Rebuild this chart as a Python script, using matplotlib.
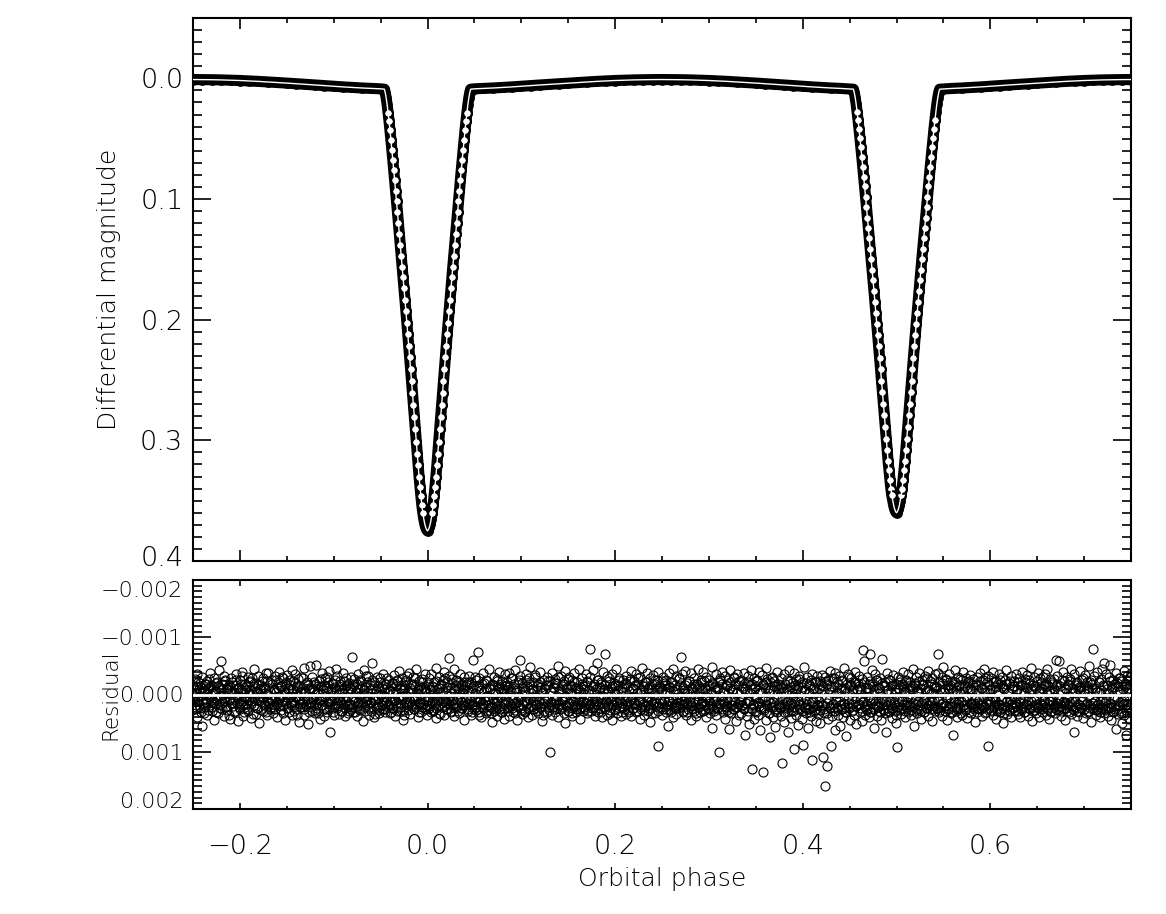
import numpy as np
import matplotlib
matplotlib.use("Agg")
import matplotlib.pyplot as plt
import matplotlib.transforms as mtransforms
from matplotlib.ticker import MultipleLocator, FuncFormatter

# ---------------- data ----------------
# eclipse half-profile: phase offset from minimum
ecl_offset = [0.000, 0.001, 0.002, 0.003, 0.004, 0.005, 0.006, 0.007, 0.008, 0.009,
              0.010, 0.011, 0.012, 0.013, 0.014, 0.015, 0.016, 0.017, 0.018, 0.019,
              0.020, 0.021, 0.022, 0.023, 0.024, 0.025, 0.026, 0.027, 0.028, 0.029,
              0.030, 0.031, 0.032, 0.033, 0.034, 0.035, 0.036, 0.037, 0.038, 0.039,
              0.040, 0.041, 0.042, 0.043, 0.044, 0.045, 0.046]
primary_mag = [0.3750, 0.3740, 0.3720, 0.3690, 0.3650, 0.3600, 0.3540, 0.3465, 0.3385, 0.3300,
               0.3205, 0.3110, 0.3010, 0.2910, 0.2810, 0.2710, 0.2610, 0.2510, 0.2410, 0.2310,
               0.2215, 0.2120, 0.2025, 0.1930, 0.1835, 0.1740, 0.1650, 0.1560, 0.1470, 0.1380,
               0.1290, 0.1200, 0.1110, 0.1020, 0.0930, 0.0845, 0.0760, 0.0675, 0.0590, 0.0510,
               0.0430, 0.0355, 0.0285, 0.0220, 0.0165, 0.0120, 0.0090]
secondary_mag = [0.3600, 0.3590, 0.3570, 0.3540, 0.3500, 0.3456, 0.3400, 0.3326, 0.3249, 0.3168,
                 0.3077, 0.2986, 0.2890, 0.2794, 0.2698, 0.2602, 0.2506, 0.2410, 0.2314, 0.2219,
                 0.2127, 0.2036, 0.1945, 0.1854, 0.1763, 0.1672, 0.1586, 0.1499, 0.1413, 0.1327,
                 0.1240, 0.1154, 0.1068, 0.0981, 0.0895, 0.0814, 0.0732, 0.0651, 0.0569, 0.0492,
                 0.0416, 0.0344, 0.0277, 0.0214, 0.0162, 0.0118, 0.0090]

# out-of-eclipse sections
phase_a = [-0.25, -0.24, -0.23, -0.22, -0.21, -0.20, -0.19, -0.18, -0.17, -0.16, -0.15,
           -0.14, -0.13, -0.12, -0.11, -0.10, -0.09, -0.08, -0.07, -0.06, -0.05]
mag_a = [0.00100, 0.00105, 0.00115, 0.00130, 0.00155, 0.00180, 0.00215, 0.00255, 0.00300,
         0.00345, 0.00395, 0.00445, 0.00500, 0.00550, 0.00605, 0.00655, 0.00710, 0.00755,
         0.00800, 0.00835, 0.00870]
phase_b = [0.05, 0.06, 0.07, 0.08, 0.09, 0.10, 0.11, 0.12, 0.13, 0.14, 0.15, 0.16, 0.17,
           0.18, 0.19, 0.20, 0.21, 0.22, 0.23, 0.24, 0.25, 0.26, 0.27, 0.28, 0.29, 0.30,
           0.31, 0.32, 0.33, 0.34, 0.35, 0.36, 0.37, 0.38, 0.39, 0.40, 0.41, 0.42, 0.43,
           0.44, 0.45]
mag_b = [0.00870, 0.00835, 0.00800, 0.00755, 0.00710, 0.00655, 0.00605, 0.00550, 0.00500,
         0.00445, 0.00395, 0.00345, 0.00300, 0.00255, 0.00215, 0.00180, 0.00155, 0.00130,
         0.00115, 0.00105, 0.00100, 0.00105, 0.00115, 0.00130, 0.00155, 0.00180, 0.00215,
         0.00255, 0.00300, 0.00345, 0.00395, 0.00445, 0.00500, 0.00550, 0.00605, 0.00655,
         0.00710, 0.00755, 0.00800, 0.00835, 0.00880]
phase_c = [0.55, 0.56, 0.57, 0.58, 0.59, 0.60, 0.61, 0.62, 0.63, 0.64, 0.65, 0.66, 0.67,
           0.68, 0.69, 0.70, 0.71, 0.72, 0.73, 0.74, 0.75]
mag_c = [0.00880, 0.00835, 0.00800, 0.00755, 0.00710, 0.00655, 0.00605, 0.00550, 0.00500,
         0.00445, 0.00395, 0.00345, 0.00300, 0.00255, 0.00215, 0.00180, 0.00155, 0.00130,
         0.00115, 0.00105, 0.00100]

# residuals (units of 1e-5 mag), two interleaved sets, each ordered in phase -0.25 .. 0.75
residual_set1_1e5 = """
12 -8 25 3 -15 40 7 -22 18 -5 30 -12 55 9 -3 22 -18 14 35 -9 4 -27 19 0 28 -14 11 45 -6 16 -20 8 33 -11 24 2 -58 13 -17 38 6 -24 21 -2 27 -13 10 42 -7 15
-4 20 -16 31 8 -25 14 47 -10 3 26 -19 11 -33 37 5 -8 22 -14 16 29 -3 9 -21 41 12 -28 6 18 -11 34 -6 24 -17 2 50 -9 13 -23 28 7 -13 19 -38 10 36 -1 15 -20 25
9 -18 33 -7 21 4 -26 16 39 -12 8 -15 27 1 -30 18 -5 44 11 -22 23 -10 6 30 -16 14 -2 36 -24 19 10 -35 26 -8 3 48 -14 17 -4 22 -29 12 35 -6 20 -19 7 52 -11 15
-50 13 28 -9 5 -21 32 17 -3 24 -14 10 43 -27 8 19 -7 37 -16 2 26 -31 14 -11 21 65 -5 11 -20 30 6 -13 18 -45 23 9 -2 34 -18 15 28 -8 4 -24 38 12 -15 20 -6 29
16 -12 25 -65 7 31 -19 11 -4 38 20 -9 3 -25 27 14 -15 46 6 -8 22 -32 10 18 -2 35 -17 13 29 -10 5 -22 40 8 -6 24 -14 17 33 -28 1 19 -11 26 9 -18 30 12 -5 21
-7 18 32 -14 6 24 -20 11 37 -3 15 -26 21 4 -11 29 -16 9 44 -8 27 -22 13 2 -33 19 8 -12 34 -5 16 -18 25 10 -28 22 3 39 -9 14 -15 31 7 -21 17 -4 26 -10 12 36
5 -19 23 -9 30 12 -14 27 -3 16 41 -24 8 20 -11 33 1 -17 22 11 -6 36 -28 14 25 -13 7 -64 18 -2 29 -20 10 38 -7 15 -25 21 4 -12 32 9 -16 24 -5 19 45 -10 13 -22
17 -8 28 -21 10 35 -4 19 -15 26 6 -30 22 13 -75 31 -11 8 40 -18 15 24 -6 11 -26 33 2 18 -13 27 -9 21 48 -16 7 29 -3 14 -23 37 10 -12 25 4 -19 30 -7 16 42 -14
-2 24 -17 13 38 -9 20 -28 6 31 15 -12 27 -5 44 9 -21 18 -60 23 1 34 -14 11 -7 29 -25 16 40 8 -18 22 -3 35 12 -10 26 -30 19 5 -15 32 10 -22 21 -8 46 14 -4 28
11 -16 30 7 -24 22 100 -6 17 35 -13 9 26 -20 14 3 -30 39 18 -9 24 -3 12 -18 33 6 50 -11 21 -27 15 28 -5 10 -14 37 20 -22 8 -1 31 16 -12 25 -7 43 4 -19 29 13
-10 26 14 -21 33 5 -8 19 -80 28 10 -15 22 -4 37 16 -26 11 30 -12 24 7 -18 40 2 -9 21 -70 13 35 -6 17 -23 27 9 -14 45 19 -3 25 -16 12 32 -8 6 -25 20 38 -11 15
21 -13 8 34 -19 16 27 -6 12 -24 38 4 -10 23 15 -17 30 -2 19 -28 9 42 -8 26 13 -15 35 -4 20 -21 11 29 -12 6 48 -9 24 -18 17 1 33 -7 14 -26 22 90 -14 10 -5 36
-8 25 12 -20 31 -3 18 55 -13 9 27 -22 15 -6 40 21 -16 7 34 -10 23 -29 14 4 -65 19 30 -7 11 -17 36 16 -2 26 -24 8 44 -12 20 -5 29 -19 13 38 -9 22 3 -15 31 17
14 -11 28 -23 19 6 39 -7 23 -16 12 33 -4 58 -20 26 8 -13 35 17 -9 24 100 -26 15 3 -18 30 11 -6 42 20 -14 27 -2 60 -21 9 33 18 -10 25 -28 13 47 -5 21 -17 36 7
-6 32 19 -15 26 70 -9 14 38 -21 11 52 -3 24 130 -18 17 43 -12 29 6 -25 36 15 -8 62 21 -4 135 -16 27 10 -22 45 18 -11 33 75 -7 22 -28 40 13 -14 56 25 -1 31 -19 16
24 -12 37 120 -5 20 48 -18 13 30 -8 66 22 -24 15 41 -3 28 95 -16 11 35 -10 54 19 -27 26 7 -13 43 88 -6 21 32 -20 16 58 -2 25 -15 38 115 -9 12 29 -22 47 18 -4 34
-11 27 50 -17 19 110 -6 33 160 -23 14 125 42 -9 24 90 -14 38 16 -28 29 62 -3 21 -19 35 11 55 -8 26 -25 40 17 -12 31 72 -5 22 -30 15 45 -16 28 8 -10 36 -21 20 52 -7
18 -14 30 -9 23 46 -78 12 -21 35 16 -4 27 -12 40 -70 9 31 -18 22 58 -7 14 -25 37 20 -11 28 -3 44 15 -20 25 6 -15 33 65 -8 19 -27 30 11 -5 41 -17 24 13 -10 36 50
92 -11 27 16 -22 34 8 -15 24 -5 40 19 -26 13 31 -8 21 -17 36 4 -13 28 55 -20 17 -6 33 11 -24 25 -2 42 14 -16 30 9 -10 23 -29 18 38 -7 26 -18 12 47 -3 20 -12 29
-15 24 -70 31 10 -9 22 -20 37 15 -4 28 -25 18 45 -12 26 6 -17 33 20 -8 70 13 -22 29 -3 39 16 -14 23 -27 11 35 -6 19 -18 27 3 -11 41 21 -24 14 32 -9 17 -16 25 48
9 -18 30 14 -7 26 -23 19 38 -12 22 5 -28 33 15 -4 90 24 -16 11 29 -10 36 -21 18 7 -13 42 25 -6 17 -26 31 10 -15 23 50 -9 20 -19 34 12 -3 27 -24 16 39 -11 21 4
-14 28 17 -8 34 -22 13 40 -5 25 -17 20 8 -27 31 16 -11 37 -3 23 -20 12 46 -9 29 18 -15 33 6 -24 21 -6 39 14 -12 26 -30 19 10 -18 35 -2 24 -14 42 11 -8 30 -21 17
22 -10 32 -60 15 -19 27 8 -14 38 20 -6 25 -23 13 44 -9 29 -16 18 3 -27 34 12 -11 26 65 -4 21 -20 37 16 -13 30 -7 24 -25 11 41 -2 19 -17 33 14 -8 28 -22 23 48 -12
15 -80 26 -12 35 18 -5 29 -21 11 40 -8 23 -16 32 -55 14 27 -10 38 -3 21 -24 16 45 -13 30 8 -18 25 60 -6 34 -15 19 -28 28 12 50 -9 36 -20 17 70 -4 24 -12 42 -30 31
"""
residual_set2_1e5 = """
-14 6 -27 19 -3 -35 11 -9 24 -20 2 -31 15 -6 33 -18 8 -24 -1 27 -12 -38 10 -16 21 -7 -29 13 -4 30 -22 5 -15 -42 17 -8 26 -19 1 -33 12 -25 20 -10 -2 35 -17 7 -28 14
-21 9 -5 28 -16 -36 3 -11 22 -26 14 -8 -40 18 -2 31 -19 6 -13 25 -30 10 -7 -23 16 -1 34 -14 -45 8 -20 23 -4 -32 12 -9 27 -17 4 -28 19 -12 -3 30 -24 11 -37 15 -6 21
7 -25 17 -10 -33 26 -4 13 -21 2 -39 20 -14 9 -28 32 -7 -18 15 -1 -34 24 -12 5 -26 18 -43 11 -8 29 -20 3 -15 36 -27 10 -5 22 -31 14 -11 -46 25 -3 16 -22 8 -17 30 -9
-12 21 -30 8 -6 27 -19 -52 14 -3 33 -24 10 -15 -37 19 -8 25 -28 4 -13 31 -21 12 -41 6 -10 23 -18 1 35 -26 15 -7 -32 20 -14 9 -23 28 -2 -38 17 -11 24 -29 5 -16 32 -20
16 -9 -31 22 -15 5 -27 30 -4 -19 13 -36 26 -11 8 -24 18 -2 -42 29 -13 11 -21 3 -33 24 -8 15 -26 -55 10 -17 34 -6 21 -30 7 -12 27 -22 -1 19 -35 13 -9 25 -18 4 -28 17
-26 12 -8 31 -20 -3 24 -34 9 -14 28 -23 6 -41 17 -10 22 -29 2 -16 35 -12 -25 14 -5 27 -38 11 -19 20 -7 -31 25 -15 4 -44 16 -2 30 -24 13 -9 -27 21 -13 8 -35 26 -6 18
10 -28 20 -7 -36 15 -13 29 -22 4 -47 23 -10 12 -30 -5 34 -18 7 -25 19 -40 11 -3 26 -21 14 -33 2 -12 31 -27 17 -8 -44 22 -16 9 -23 28 -1 -35 13 -19 24 -9 -30 18 -14 6
-17 25 -5 -32 14 -22 31 -11 -60 19 -3 27 -26 8 -15 35 -29 12 -7 22 -38 16 -20 4 -12 29 -24 10 -45 21 -9 33 -18 6 -31 15 -2 26 -27 11 -14 -39 20 -6 30 -23 13 -10 24 -35
3 -21 28 -13 -37 17 -6 24 -29 9 -18 33 -42 14 -8 21 -25 5 -33 27 -11 -20 18 -4 30 -36 12 -15 23 -28 7 -48 19 -10 26 -22 2 -34 16 -7 29 -19 11 -40 22 -13 -3 35 -26 8
-9 19 -31 6 -16 27 -24 13 -4 -38 21 -12 30 -27 10 -20 -50 16 -6 25 -33 8 -14 22 -23 3 -41 18 -9 28 -30 14 -17 -2 32 -25 11 -37 20 -11 26 -21 7 -45 17 -5 23 -28 12 -15
21 -14 -35 9 -24 29 -8 16 -30 -3 24 -42 12 -18 27 -10 -55 19 -26 6 -13 31 -22 14 -39 -7 25 -16 10 -32 20 -4 -28 33 -11 17 -36 8 -20 26 -1 -44 15 -17 23 -29 11 -6 30 -25
-5 26 -20 12 -33 4 -15 30 -27 18 -41 7 -11 24 -24 14 -36 -2 28 -19 9 -31 21 -8 -46 16 -14 27 -22 5 -38 19 -10 25 -29 11 -3 33 -34 13 -18 -26 20 -7 29 -40 15 -12 22 -23
14 -30 8 -17 26 -25 -4 20 -38 11 -13 31 -21 6 -45 18 -9 24 -32 15 -1 -27 22 -16 9 -35 28 -11 17 -41 4 -20 30 -6 -24 13 -37 19 -12 25 -28 7 -15 32 -19 10 -44 21 -3 -26
-22 11 -40 19 -9 27 -31 5 -14 23 -26 15 -3 -48 20 -18 29 -8 12 -35 24 -11 -21 17 -29 7 -39 26 -5 14 -33 21 -16 9 -25 30 -12 -43 18 -7 25 -30 10 -19 22 -2 -36 16 -24 13
9 -26 18 -12 -37 23 -20 14 -6 29 -32 11 -17 -42 25 -9 19 -28 4 -15 31 -23 13 -39 20 -5 26 -34 8 -18 24 -11 -46 16 -27 10 -3 33 -21 15 -31 22 -8 -24 28 -14 6 -40 19 -10
-16 22 -29 7 -11 30 -35 16 -4 24 -25 12 -43 19 -13 28 -20 3 -38 21 -9 -27 26 -15 11 -33 17 -6 29 -22 14 -48 23 -10 8 -30 25 -18 -2 31 -26 13 -36 20 -12 27 -21 5 -32 18
12 -23 27 -8 -34 19 -14 25 -30 6 -19 32 -26 10 -41 22 -5 -28 16 -13 29 -37 9 -21 24 -3 -32 18 -11 26 -24 14 -47 21 -7 30 -19 8 -35 23 -15 -29 17 -4 27 -22 11 -39 20 -9
-20 16 -33 10 -7 28 -27 13 -58 21 -11 25 -31 4 -18 30 -23 15 -42 9 -14 26 -36 18 -3 -25 22 -12 31 -29 7 -62 19 -16 27 -21 12 -38 24 -8 29 -26 6 -15 23 -34 17 -5 28 -19
8 -31 21 -10 -27 26 -18 12 -40 17 -6 29 -24 3 -35 20 -13 -21 27 -9 14 -44 22 -16 10 -30 25 -4 -37 19 -12 28 -26 7 -19 31 -33 15 -8 24 -41 11 -23 18 -2 -29 26 -14 9 -36
-13 24 -38 11 -22 27 -5 16 -31 -48 20 -9 29 -27 6 -16 23 -35 14 -11 -24 30 -19 8 -43 21 -7 26 -30 12 -17 -2 33 -25 18 -39 10 -14 25 -28 4 -21 31 -10 -34 17 -6 22 -27 15
18 -8 -30 23 -17 9 -37 26 -12 14 -25 -45 20 -4 31 -21 11 -33 16 -9 27 -28 5 -40 22 -15 12 -24 29 -6 -35 19 -18 25 -30 8 -11 33 -26 13 -42 21 -3 28 -20 10 -32 17 -14 24
-24 13 -36 20 -10 28 -29 7 -16 24 -40 15 -5 30 -22 -13 18 -34 11 -26 25 -8 -47 21 -17 9 -31 27 -12 16 -38 23 -3 -28 19 -20 31 -9 14 -35 22 -15 -44 26 -6 12 -27 29 -18 10
5 -27 19 -14 26 -33 10 -58 22 -8 29 -25 13 -39 17 -11 24 -30 6 -19 31 -23 15 -45 20 -4 27 -36 12 -16 -22 28 -9 18 -41 23 -13 8 -29 25 -7 -34 16 -21 30 -12 -50 19 -25 14
-18 23 -32 12 -8 27 -39 16 -22 -5 30 -27 11 -44 20 -14 26 -35 9 -17 24 -30 15 -52 21 -10 -25 29 -13 18 -37 8 -20 25 -28 13 -6 32 -23 17 -41 10 -15 27 -33 19 -9 -26 22 -38
"""

x_ticks = [-0.2, 0.0, 0.2, 0.4, 0.6]
mag_ticks = [0.0, 0.1, 0.2, 0.3, 0.4]
res_ticks = [-0.002, -0.001, 0.0, 0.001, 0.002]

# ---------------- assemble ----------------
off = np.array(ecl_offset)
prim = np.array(primary_mag)
sec = np.array(secondary_mag)
prim_phase = np.concatenate([-off[::-1], off[1:]])
prim_m = np.concatenate([prim[::-1], prim[1:]])
sec_phase = 0.5 + prim_phase
sec_m = np.concatenate([sec[::-1], sec[1:]])

phase_all = np.concatenate([phase_a, prim_phase, phase_b, sec_phase, phase_c])
mag_all = np.concatenate([mag_a, prim_m, mag_b, sec_m, mag_c])

wall_mask_p = (np.abs(prim_phase) >= 0.005) & (np.abs(prim_phase) <= 0.042)
wall_mask_s = (np.abs(sec_phase - 0.5) >= 0.005) & (np.abs(sec_phase - 0.5) <= 0.042)
wall_phase = np.concatenate([prim_phase[wall_mask_p], sec_phase[wall_mask_s]])
wall_mag = np.concatenate([prim_m[wall_mask_p], sec_m[wall_mask_s]])

res1 = np.array([float(v) for v in residual_set1_1e5.split()]) * 1e-5
res2 = np.array([float(v) for v in residual_set2_1e5.split()]) * 1e-5
step1 = 1.0 / len(res1)
res1_phase = np.linspace(-0.25, 0.75, len(res1))
res2_phase = np.linspace(-0.25 + step1 / 2, 0.75 - step1 / 2, len(res2))

# ---------------- figure ----------------
plt.rcParams['font.family'] = ['DejaVu Sans']
plt.rcParams['font.weight'] = 'light'
plt.rcParams['axes.labelweight'] = 'light'
plt.rcParams['axes.linewidth'] = 1.5

W, H = 1166, 914
fig = plt.figure(figsize=(W / 100, H / 100), dpi=100)
L, R = 193, 1131
ax1 = fig.add_axes([L / W, 1 - 561 / H, (R - L) / W, (561 - 18) / H])
ax2 = fig.add_axes([L / W, 1 - 809 / H, (R - L) / W, (809 - 580) / H])


def fmt(decimals):
    def f(v, pos):
        s = f"{v:.{decimals}f}"
        if s.lstrip('-').strip('0.') == '':
            s = s.lstrip('-')
        return s.replace('-', '\u2212')
    return FuncFormatter(f)


TICK_FS = 19.5
RES_TICK_FS = 16
LABEL_FS = 18
RES_LABEL_FS = 15.5

# top panel
ax1.plot(phase_all, mag_all, color='black', lw=8.0, solid_joinstyle='round',
         solid_capstyle='butt', zorder=1)
ax1.plot(phase_all, mag_all, 'o', ms=6.8, mfc='none', mec='black', mew=0.9, zorder=2)
ax1.plot(wall_phase, wall_mag, 'o', ms=6.2, mfc='white', mec='black', mew=1.6, zorder=3)
ax1.plot(phase_all, mag_all, color='white', lw=1.0, zorder=4)
ax1.plot(wall_phase, wall_mag, '+', ms=4.0, mec='white', mew=0.9, zorder=5)

ax1.set_xlim(-0.25, 0.75)
ax1.set_ylim(0.40, -0.05)
ax1.set_xticks(x_ticks)
ax1.xaxis.set_minor_locator(MultipleLocator(0.05))
ax1.set_yticks(mag_ticks)
ax1.yaxis.set_minor_locator(MultipleLocator(0.01))
ax1.yaxis.set_major_formatter(fmt(1))
ax1.tick_params(axis='x', which='major', direction='in', top=True, bottom=True,
                length=8, width=1.2, labelbottom=False)
ax1.tick_params(axis='x', which='minor', direction='in', top=True, bottom=True,
                length=3.5, width=1.2)
ax1.tick_params(axis='y', which='major', direction='in', left=True, right=True,
                length=13, width=1.2, labelsize=TICK_FS, pad=7)
ax1.tick_params(axis='y', which='minor', direction='in', left=True, right=True,
                length=6.5, width=1.2)
ax1.set_ylabel('Differential magnitude', fontsize=LABEL_FS)
ax1.yaxis.set_label_coords(-0.077, 0.5)

# residual panel
ax2.plot(res1_phase, res1, 'o', ms=6.5, mfc='none', mec='black', mew=0.8, zorder=2)
ax2.plot(res2_phase, res2, 'o', ms=6.5, mfc='none', mec='black', mew=0.8, zorder=2)
ax2.axhline(0.0, color='white', lw=2.0, zorder=3)
ax2.set_xlim(-0.25, 0.75)
ax2.set_ylim(0.002, -0.002)
ax2.set_xticks(x_ticks)
ax2.xaxis.set_minor_locator(MultipleLocator(0.05))
ax2.set_yticks(res_ticks)
ax2.yaxis.set_minor_locator(MultipleLocator(0.0001))
ax2.yaxis.set_major_formatter(fmt(3))
ax2.xaxis.set_major_formatter(fmt(1))
ax2.tick_params(axis='x', which='major', direction='in', top=True, bottom=True,
                length=4, width=1.2, labelsize=TICK_FS, pad=18)
ax2.tick_params(axis='x', which='minor', direction='in', top=True, bottom=True,
                length=2, width=1.2)
ax2.tick_params(axis='y', which='major', direction='in', left=True, right=True,
                length=13, width=1.2, labelsize=RES_TICK_FS, pad=7)
ax2.tick_params(axis='y', which='minor', direction='in', left=True, right=True,
                length=6.5, width=1.2)
ax2.set_ylabel('Residual', fontsize=RES_LABEL_FS)
ax2.yaxis.set_label_coords(-0.077, 0.5)
ax2.set_xlabel('Orbital phase', fontsize=LABEL_FS)
ax2.xaxis.set_label_coords(0.5, -0.255)

# nudge edge tick labels inward, as in the original
def nudge(tick, dy_px):
    lab = tick.label1
    lab.set_transform(lab.get_transform() +
                      mtransforms.ScaledTranslation(0, dy_px / 100.0, fig.dpi_scale_trans))

yt1 = ax1.yaxis.get_major_ticks()
nudge(yt1[-1], 5)
yt2 = ax2.yaxis.get_major_ticks()
nudge(yt2[0], -9)
nudge(yt2[-1], 9)

fig.savefig('out.png', dpi=100)
